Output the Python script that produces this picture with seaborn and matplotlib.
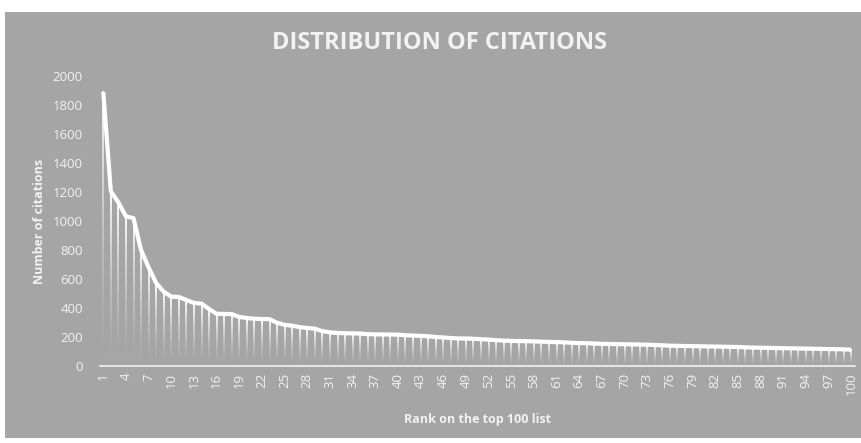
import numpy as np
import pandas as pd
import matplotlib
matplotlib.use("Agg")
import matplotlib.pyplot as plt
from matplotlib.patches import Rectangle
import seaborn as sns

# Citation counts of the top 100 list, by rank
ranks = list(range(1, 101))
citations = [
    1890, 1205, 1128, 1032, 1020, 800, 680, 572, 512, 478,
    476, 455, 435, 430, 393, 360, 359, 358, 338, 331,
    326, 324, 323, 298, 284, 278, 268, 262, 258, 240,
    232, 228, 226, 225, 224, 220, 218, 218, 217, 216,
    212, 210, 208, 205, 200, 197, 193, 190, 190, 188,
    185, 182, 178, 175, 173, 172, 171, 170, 168, 166,
    165, 163, 160, 158, 157, 155, 153, 152, 151, 150,
    149, 148, 147, 145, 143, 140, 139, 138, 137, 136,
    135, 134, 133, 132, 131, 129, 127, 126, 125, 124,
    123, 122, 121, 120, 119, 118, 117, 116, 115, 112,
]
x_tick_labels = [str(r) for r in range(1, 101, 3)]
y_ticks = list(range(0, 2001, 200))

title = "DISTRIBUTION OF CITATIONS"
x_label = "Rank on the top 100 list"
y_label = "Number of citations"

df = pd.DataFrame({"rank": ranks, "citations": citations})

sns.set_theme(style="white")
plt.rcParams["font.family"] = ["Open Sans", "DejaVu Sans"]

BG = "#a5a5a5"
TXT = "#f2f2f2"

fig = plt.figure(figsize=(8.61, 4.43), dpi=100, facecolor="white")
fig.patches.append(Rectangle((5 / 861, 5 / 443), 1 - 5 / 861, 1 - 17 / 443,
                             transform=fig.transFigure, facecolor=BG,
                             edgecolor="none", zorder=-10))

ax = fig.add_axes([99.5 / 861, 77 / 443, (855 - 99.5) / 861, 290 / 443])
ax.set_facecolor("none")

# Thin drop bars, later filled with a white-to-clear gradient
sns.barplot(data=df, x="rank", y="citations", native_scale=True, width=0.26,
            color="white", ax=ax)
grad = np.linspace(0, 1, 256)[:, None] ** 1.5
rgba = np.ones((256, 1, 4))
rgba[..., 3] = grad * 0.95
for p in ax.patches:
    x0, w, h = p.get_x(), p.get_width(), p.get_height()
    p.set_alpha(0)
    ax.imshow(rgba, extent=[x0, x0 + w, 0, h], origin="lower",
              aspect="auto", interpolation="bilinear", zorder=2)

sns.lineplot(data=df, x="rank", y="citations", color="white", linewidth=3.0,
             solid_capstyle="butt", solid_joinstyle="round", ax=ax, zorder=3)

ax.set_xlim(0.5, 100.5)
ax.set_ylim(0, 2000)
ax.set_yticks(y_ticks)
ax.set_yticklabels([str(v) for v in y_ticks])
ax.set_xticks(list(range(1, 101, 3)))
ax.set_xticklabels(x_tick_labels, rotation=90)
ax.tick_params(axis="both", length=0, labelcolor=TXT, labelsize=9.5)
ax.tick_params(axis="y", pad=12)
ax.tick_params(axis="x", pad=5)

for side in ["top", "right", "left"]:
    ax.spines[side].set_visible(False)
ax.spines["bottom"].set_color("#f2f2f2")
ax.spines["bottom"].set_linewidth(1.2)
ax.grid(False)

ax.set_xlabel(x_label, color=TXT, fontsize=9, fontweight="bold", labelpad=13)
ax.set_ylabel(y_label, color=TXT, fontsize=9, fontweight="bold", labelpad=5)

fig.text(440 / 861, 1 - 43 / 443, title, ha="center", va="center",
         color=TXT, fontsize=17, fontweight="bold")

fig.savefig("out.png", dpi=100, facecolor=fig.get_facecolor())
